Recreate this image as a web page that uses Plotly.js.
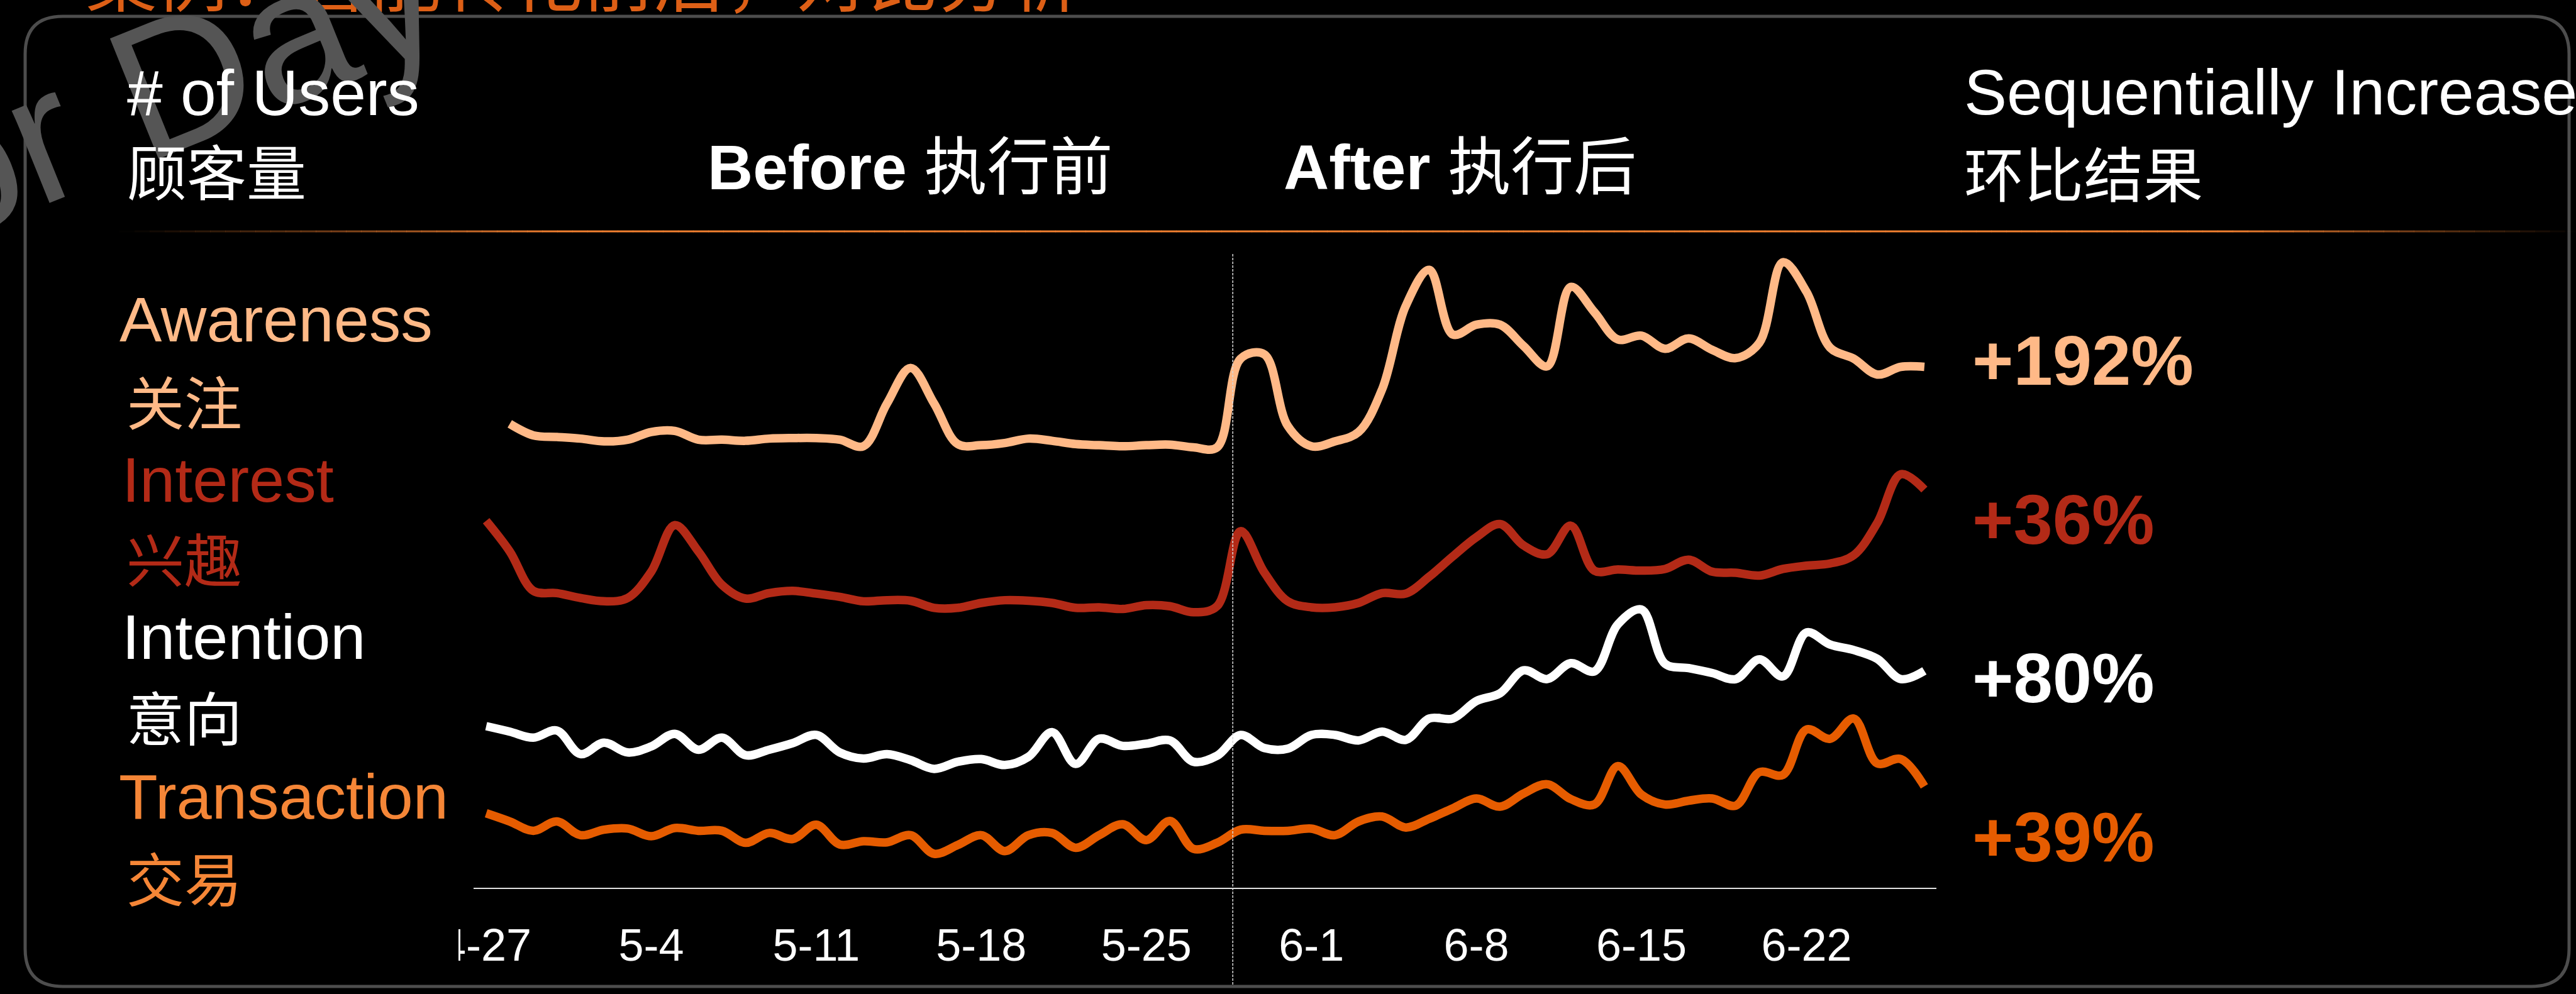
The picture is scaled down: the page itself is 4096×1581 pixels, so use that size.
<!DOCTYPE html>
<html>
<head>
<meta charset="utf-8">
<script src="https://cdn.plot.ly/plotly-3.0.1.min.js"></script>
<style>
html,body{margin:0;padding:0;background:#000;overflow:hidden}
#chart{width:4096px;height:1581px}
</style>
</head>
<body>
<div id="chart"></div>
<script>
// ---------- data ----------
const dates = ['2019-04-27','2019-04-28','2019-04-29','2019-04-30',
'2019-05-01','2019-05-02','2019-05-03','2019-05-04','2019-05-05','2019-05-06','2019-05-07','2019-05-08','2019-05-09','2019-05-10',
'2019-05-11','2019-05-12','2019-05-13','2019-05-14','2019-05-15','2019-05-16','2019-05-17','2019-05-18','2019-05-19','2019-05-20',
'2019-05-21','2019-05-22','2019-05-23','2019-05-24','2019-05-25','2019-05-26','2019-05-27','2019-05-28','2019-05-29','2019-05-30','2019-05-31',
'2019-06-01','2019-06-02','2019-06-03','2019-06-04','2019-06-05','2019-06-06','2019-06-07','2019-06-08','2019-06-09','2019-06-10',
'2019-06-11','2019-06-12','2019-06-13','2019-06-14','2019-06-15','2019-06-16','2019-06-17','2019-06-18','2019-06-19','2019-06-20',
'2019-06-21','2019-06-22','2019-06-23','2019-06-24','2019-06-25','2019-06-26','2019-06-27'];

// Awareness starts on 4-28
const awareness = [84.7,82.6,82.3,82.0,81.5,81.8,83.2,83.4,81.8,81.8,81.6,82.0,82.1,82.1,81.8,80.6,88.4,94.9,88.4,81.0,
80.8,81.2,82.0,81.6,81.0,80.8,80.6,80.8,80.9,80.4,80.4,96.6,97.4,84.3,80.6,81.5,83.2,91.0,106.2,112.8,
101.0,102.8,102.8,98.9,95.2,109.7,105.1,100.1,100.8,98.4,100.3,98.2,96.7,99.5,114.2,108.8,98.6,96.6,93.7,95.1,95.1];
const interest = [67.0,61.4,54.2,53.8,52.9,52.3,52.9,57.7,66.2,61.4,55.3,52.8,53.8,54.2,53.7,53.1,52.3,52.5,52.4,51.1,
51.1,52.0,52.5,52.4,52.0,51.1,51.2,50.9,51.6,51.4,50.3,51.4,65.1,57.6,52.3,51.2,51.2,52.0,53.8,53.7,
56.8,60.5,64.0,66.4,62.5,60.9,66.1,57.9,58.1,57.9,58.2,59.9,57.7,57.5,57.0,58.2,58.8,59.2,60.7,66.6,75.5,72.7];
const intention = [29.5,28.5,27.4,28.7,24.4,26.5,24.7,25.8,28.1,25.2,27.4,24.2,25.2,26.4,27.9,24.7,23.6,24.4,23.3,21.7,
23.0,23.5,22.4,23.9,28.4,22.6,27.2,25.9,26.3,26.9,23.0,24.1,27.9,25.5,25.4,27.9,27.9,26.9,28.5,27.0,
30.9,30.9,34.1,35.5,39.7,38.1,41.0,39.5,48.1,50.8,40.9,40.1,39.2,38.1,41.7,38.6,46.6,44.4,43.4,41.8,38.1,39.6];
const transaction = [13.6,12.1,10.4,12.1,9.6,10.6,10.8,9.4,10.9,10.4,10.4,8.2,10.0,8.9,11.5,7.9,8.5,8.3,9.6,6.2,
7.8,9.6,6.7,9.6,10.0,7.3,9.6,11.6,8.7,12.2,7.1,8.2,10.6,10.4,10.4,10.8,9.6,12.1,13.0,11.0,
12.6,14.5,16.3,14.8,17.2,18.9,16.2,15.2,22.2,17.0,15.2,15.9,16.3,15.0,21.1,20.6,28.9,27.2,30.9,22.7,23.5,18.5];

const stageNames = ['Awareness','Interest','Intention','Transaction'];
const stageNamesCN = ['关注','兴趣','意向','交易'];
const growth = ['+192%','+36%','+80%','+39%'];
const lineColors = ['#FFB987','#B32A17','#FFFFFF','#E65C00'];
const labelColors = ['#FFB987','#B32A17','#FFFFFF','#F58637'];
const pctColors = ['#FFB987','#B32A17','#FFFFFF','#E65C00'];
const changeDate = '2019-05-28 16:00';

// ---------- geometry ----------
const W=4096, H=1581, ML=753, MR=1017, MT=384, MB=169;
const PW=W-ML-MR, PH=H-MT-MB;
const px = x => (x-ML)/PW;
const py = y => (H-MB-y)/PH;
const LAT = 'Liberation Sans, Arial, Noto Sans CJK SC, sans-serif';
const CJK = 'Noto Sans CJK SC, sans-serif';

const seriesX = [dates.slice(1), dates, dates, dates];
const seriesY = [awareness, interest, intention, transaction];
const traces = seriesY.map((y,i)=>({
  type:'scatter', mode:'lines', x:seriesX[i], y:y, name:stageNames[i],
  line:{color:lineColors[i], width:13.5, shape:'spline', smoothing:1},
  hoverinfo:'skip'
}));

function note(text, x, y, size, color, family, extra){
  return Object.assign({xref:'paper', yref:'paper', x:px(x), y:py(y), text:text, showarrow:false,
    xanchor:'left', yanchor:'middle', font:{family:family||LAT, size:size, color:color}}, extra||{});
}

const annotations = [
  note('案例：智能转化前后，对比分析', 134, -40, 113, '#DD5F16', CJK),
  note('or Day', 276, 132, 300, '#555555', LAT, {xanchor:'center', textangle:-22}),
  note('# of Users', 200, 148, 102, '#FFFFFF'),
  note('顾客量', 200, 270, 95, '#FFFFFF', CJK),
  note('<b>Before</b> 执行前', 1123, 266, 100, '#FFFFFF'),
  note('<b>After</b> 执行后', 2039, 266, 100, '#FFFFFF'),
  note('Sequentially Increase', 3121, 147, 102, '#FFFFFF'),
  note('环比结果', 3121, 273, 95, '#FFFFFF', CJK)
];
const labelY = [508, 763, 1013, 1267];
const cnY = [635, 885, 1137, 1393];
const labelX = [188, 192, 192, 187];
const pctY = [573, 826, 1078, 1331];
for (let i=0;i<4;i++){
  annotations.push(note(stageNames[i], labelX[i], labelY[i], 101, labelColors[i]));
  annotations.push(note(stageNamesCN[i], 199, cnY[i], 92, labelColors[i], CJK));
  annotations.push(note('<b>'+growth[i]+'</b>', 3134, pctY[i], 112, pctColors[i]));
}

// ---------- decorations ----------
const shapes = [];
// rounded frame
(function(){
  const x0=40,x1=4085,y0=26,y1=1569,r=60;
  const P=(x,y)=>px(x)+','+py(y);
  const d='M'+P(x0+r,y0)+' L'+P(x1-r,y0)+' Q'+P(x1,y0)+' '+P(x1,y0+r)+' L'+P(x1,y1-r)+' Q'+P(x1,y1)+' '+P(x1-r,y1)+
    ' L'+P(x0+r,y1)+' Q'+P(x0,y1)+' '+P(x0,y1-r)+' L'+P(x0,y0+r)+' Q'+P(x0,y0)+' '+P(x0+r,y0)+' Z';
  shapes.push({type:'path', xref:'paper', yref:'paper', path:d, line:{color:'#4d4d4d', width:5}, layer:'below'});
})();
// orange fading rule under the header
(function(){
  const yy=py(368), step=24;
  for (let x=190; x<W; x+=step){
    const xm=x+step/2;
    let a = xm<195?0: xm<890?(xm-195)/695 : xm<3545?1 : Math.max(0,(W-xm)/551);
    a=Math.max(0,Math.min(1,a));
    shapes.push({type:'line', xref:'paper', yref:'paper', x0:px(x), x1:px(x+step+0.5), y0:yy, y1:yy,
      line:{color:'rgba(242,128,48,'+a.toFixed(3)+')', width:3}, layer:'below'});
  }
})();
// before/after divider
shapes.push({type:'line', xref:'x', yref:'paper', x0:changeDate, x1:changeDate, y0:py(1566), y1:py(403),
  line:{color:'#d8d8d8', width:1.5, dash:'4px,2px'}, layer:'above'});
// mask clipping the first tick label
shapes.push({type:'rect', xref:'paper', yref:'paper', x0:px(480), x1:px(729), y0:py(1560), y1:py(1430),
  fillcolor:'#000000', line:{width:0}, layer:'above'});

const layout = {
  width:W, height:H,
  margin:{l:ML, r:MR, t:MT, b:MB, pad:0},
  paper_bgcolor:'#000000', plot_bgcolor:'#000000',
  showlegend:false, hovermode:false,
  xaxis:{type:'date', range:['2019-04-26 11:10','2019-06-27 12:14'],
    showgrid:false, zeroline:false, showline:true, linecolor:'#e2e2e2', linewidth:2,
    ticks:'outside', ticklen:28, tickcolor:'rgba(0,0,0,0)',
    tick0:'2019-04-27', dtick:604800000, tickformat:'%-m-%-d',
    tickfont:{family:LAT, size:72, color:'#FFFFFF'}},
  yaxis:{range:[0,118], visible:false, showgrid:false, zeroline:false},
  annotations:annotations,
  shapes:shapes
};

Plotly.newPlot('chart', traces, layout, {staticPlot:true, displayModeBar:false});
</script>
</body>
</html>
